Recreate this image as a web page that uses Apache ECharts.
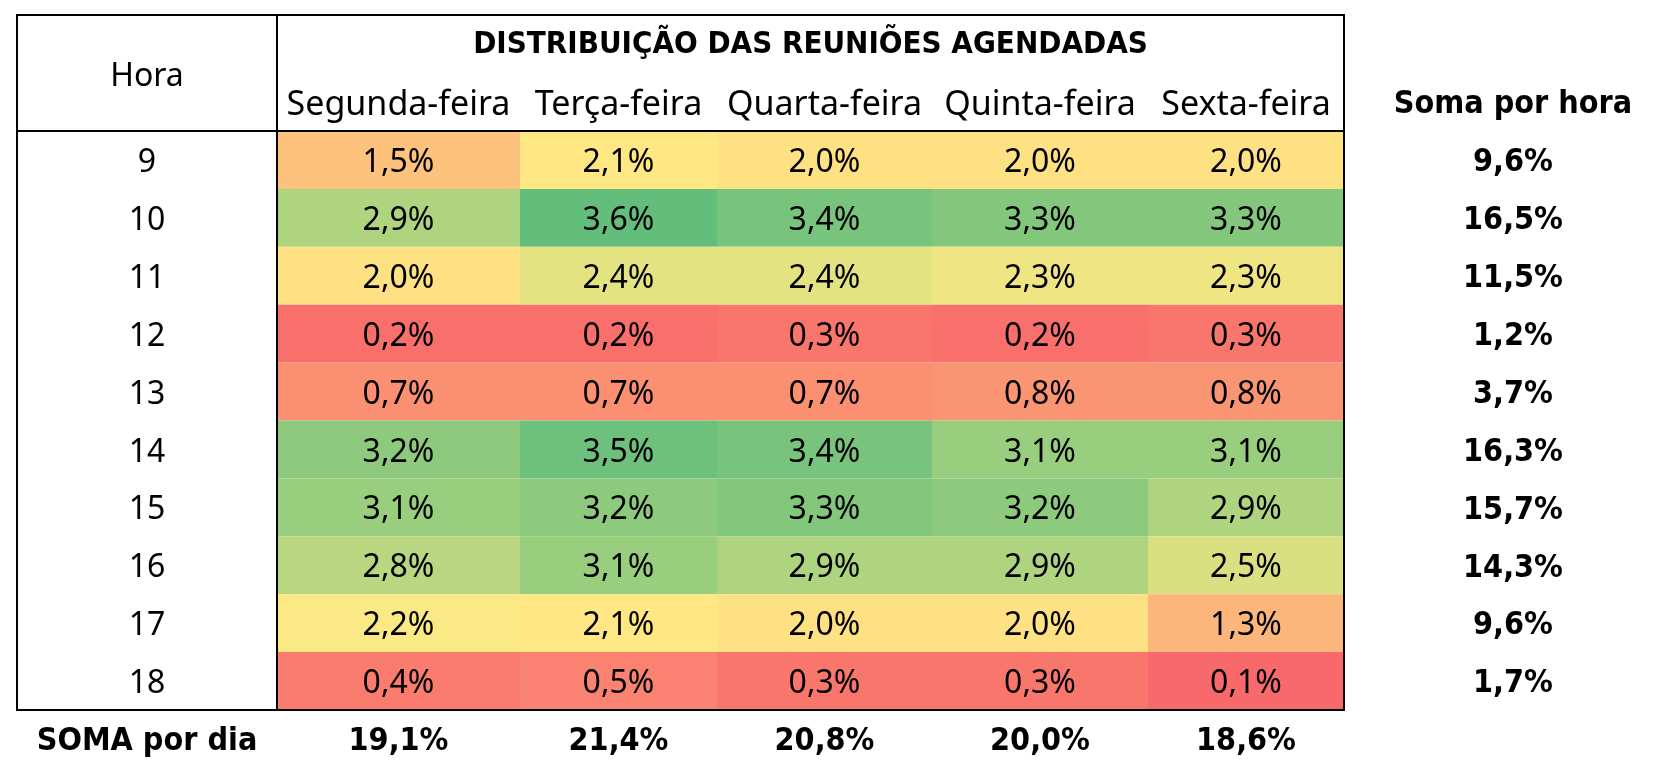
<!DOCTYPE html>
<html>
<head>
<meta charset="utf-8">
<script src="https://cdn.jsdelivr.net/npm/echarts@6/dist/echarts.min.js"></script>
<style>
html,body{margin:0;padding:0;background:#fff;}
#chart{width:1656px;height:784px;}
</style>
</head>
<body>
<div id="chart"></div>
<script>
// ---- data ----
const days = ['Segunda-feira', 'Terça-feira', 'Quarta-feira', 'Quinta-feira', 'Sexta-feira'];
const hours = ['9', '10', '11', '12', '13', '14', '15', '16', '17', '18'];
const segunda = [1.5, 2.9, 2.0, 0.2, 0.7, 3.2, 3.1, 2.8, 2.2, 0.4];
const terca   = [2.1, 3.6, 2.4, 0.2, 0.7, 3.5, 3.2, 3.1, 2.1, 0.5];
const quarta  = [2.0, 3.4, 2.4, 0.3, 0.7, 3.4, 3.3, 2.9, 2.0, 0.3];
const quinta  = [2.0, 3.3, 2.3, 0.2, 0.8, 3.1, 3.2, 2.9, 2.0, 0.3];
const sexta   = [2.0, 3.3, 2.3, 0.3, 0.8, 3.1, 2.9, 2.5, 1.3, 0.1];
const somaPorHora = [9.6, 16.5, 11.5, 1.2, 3.7, 16.3, 15.7, 14.3, 9.6, 1.7];
const somaPorDia = [19.1, 21.4, 20.8, 20.0, 18.6];
const titleText = 'DISTRIBUIÇÃO DAS REUNIÕES AGENDADAS';

// ---- layout / style ----
const colWidths = [243, 197, 215, 216, 196];
const REG = "'Noto Sans'";
const BOLD = "'DejaVu Sans Condensed', 'DejaVu Sans'";
const FS = 32;
const DY = 3;

const columns = [segunda, terca, quarta, quinta, sexta];
const edges = [0];
colWidths.forEach(w => edges.push(edges[edges.length - 1] + w));
const centers = colWidths.map((w, i) => edges[i] + w / 2);
const totalW = edges[edges.length - 1];
const fmt = v => v.toFixed(1).replace('.', ',') + '%';

const cells = [];
columns.forEach((col, d) => col.forEach((v, h) => cells.push([d, h, v])));

// Excel-like 3-colour scale (min red, median yellow, max green)
const all = cells.map(c => c[2]).slice().sort((a, b) => a - b);
const vMin = all[0], vMax = all[all.length - 1];
const vMid = (all[all.length / 2 - 1] + all[all.length / 2]) / 2;
const RED = [248, 105, 107], YEL = [255, 235, 132], GRN = [99, 190, 123];
function mix(a, b, t) { return 'rgb(' + a.map((x, i) => Math.round(x + (b[i] - x) * t)).join(',') + ')'; }
function colorAt(v) {
  if (v <= vMid) return mix(RED, YEL, (v - vMin) / (vMid - vMin));
  return mix(YEL, GRN, (v - vMid) / (vMax - vMid));
}
const stops = [];
const N = 71;
for (let i = 0; i < N; i++) stops.push(colorAt(vMin + (vMax - vMin) * i / (N - 1)));

const chart = echarts.init(document.getElementById('chart'));
const L = 277, R = 1344, T = 131, B = 710, OX = 17, OY = 15;

chart.setOption({
  animation: false,
  backgroundColor: '#fff',
  grid: { left: L, right: 1656 - R, top: T, bottom: 784 - B },
  visualMap: { show: false, type: 'continuous', min: vMin, max: vMax, dimension: 2, seriesIndex: 0, inRange: { color: stops } },
  xAxis: [
    { type: 'value', min: 0, max: totalW, position: 'top',
      axisLine: { show: false }, axisTick: { show: false }, splitLine: { show: false },
      axisLabel: { customValues: centers, margin: 29 - DY, verticalAlign: 'middle', color: '#000',
        fontFamily: REG, fontSize: 34,
        formatter: v => days[centers.indexOf(v)] } },
    { type: 'value', min: 0, max: totalW, position: 'bottom',
      axisLine: { show: false }, axisTick: { show: false }, splitLine: { show: false },
      axisLabel: { customValues: centers, margin: 29 + DY, verticalAlign: 'middle', color: '#000',
        fontFamily: BOLD, fontWeight: 'bold', fontSize: FS,
        formatter: v => fmt(somaPorDia[centers.indexOf(v)]) } }
  ],
  yAxis: [
    { type: 'category', data: hours, inverse: true, position: 'left',
      axisLine: { show: false }, axisTick: { show: false },
      axisLabel: { align: 'center', verticalAlign: 'top', lineHeight: 2 * DY, margin: L - 147,
        color: '#000', fontFamily: REG, fontSize: FS } },
    { type: 'category', data: hours, inverse: true, position: 'right',
      axisLine: { show: false }, axisTick: { show: false },
      axisLabel: { align: 'center', verticalAlign: 'top', lineHeight: 2 * DY, margin: 169,
        color: '#000', fontFamily: BOLD, fontWeight: 'bold', fontSize: FS,
        formatter: (v, i) => fmt(somaPorHora[i]) } }
  ],
  series: [{
    type: 'custom',
    xAxisIndex: 0, yAxisIndex: 0,
    data: cells,
    encode: { x: 0, y: 1 },
    renderItem: (params, api) => {
      const d = api.value(0), h = api.value(1), v = api.value(2);
      const p0 = api.coord([edges[d], h]);
      const p1 = api.coord([edges[d + 1], h]);
      const bh = api.size([0, 1])[1];
      return {
        type: 'group',
        children: [
          { type: 'rect', shape: { x: p0[0], y: p0[1] - bh / 2, width: p1[0] - p0[0], height: bh },
            style: { fill: api.visual('color') } },
          { type: 'text', x: (p0[0] + p1[0]) / 2, y: p0[1] + DY, z2: 10,
            style: { text: fmt(v), fill: '#000', font: FS + 'px ' + REG, textAlign: 'center', textVerticalAlign: 'middle' } }
        ]
      };
    }
  }],
  graphic: [
    { type: 'rect', z: 100, shape: { x: OX, y: OY, width: R - OX, height: B - OY }, style: { fill: null, stroke: '#000', lineWidth: 2 } },
    { type: 'line', z: 100, shape: { x1: L, y1: OY, x2: L, y2: B }, style: { stroke: '#000', lineWidth: 2 } },
    { type: 'line', z: 100, shape: { x1: OX, y1: T, x2: R, y2: T }, style: { stroke: '#000', lineWidth: 2 } },
    { type: 'text', z: 100, x: (OX + L) / 2, y: 74 + DY, style: { text: 'Hora', fill: '#000', font: FS + 'px ' + REG, textAlign: 'center', textVerticalAlign: 'middle' } },
    { type: 'text', z: 100, x: (L + R) / 2, y: 42 + DY, style: { text: titleText, fill: '#000', font: 'bold 31px ' + BOLD, textAlign: 'center', textVerticalAlign: 'middle' } },
    { type: 'text', z: 100, x: 1513, y: 102 + DY, style: { text: 'Soma por hora', fill: '#000', font: 'bold ' + FS + 'px ' + BOLD, textAlign: 'center', textVerticalAlign: 'middle' } },
    { type: 'text', z: 100, x: (OX + L) / 2, y: 739 + DY, style: { text: 'SOMA por dia', fill: '#000', font: 'bold ' + FS + 'px ' + BOLD, textAlign: 'center', textVerticalAlign: 'middle' } }
  ]
});
</script>
</body>
</html>
